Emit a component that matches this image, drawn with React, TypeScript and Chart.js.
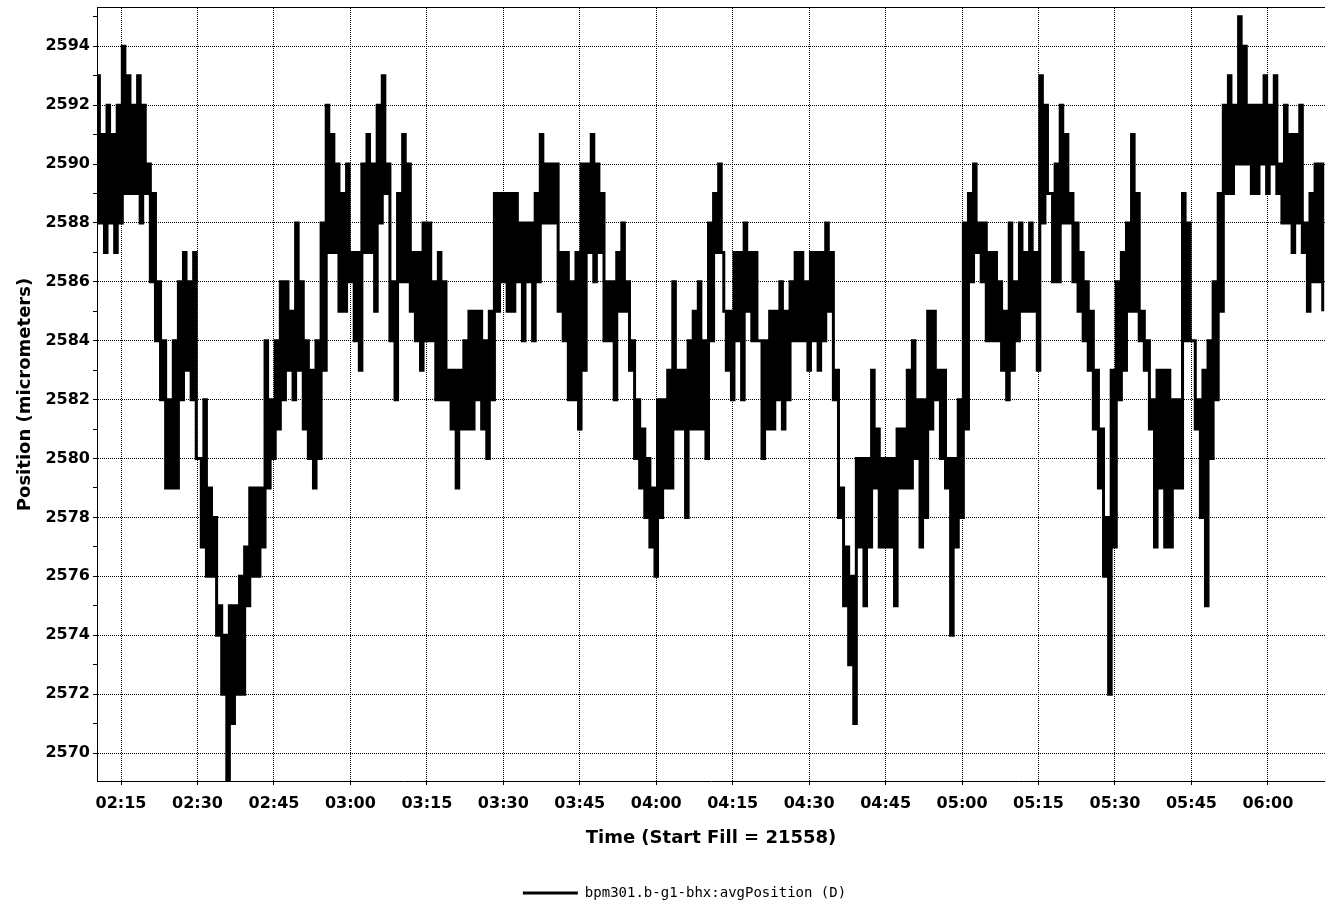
import React, { useEffect, useRef } from "react";
import { Chart, registerables } from "chart.js";

Chart.register(...registerables);

// ---- data (sampled every 30 s, values in micrometers) ----
const START_TIME = "02:10:15";
const SAMPLE_SECONDS = 30;
const X_MIN = "02:10:17";
const X_MAX = "06:11:12";
const Y_MIN = 2569.05;
const Y_MAX = 2595.3;

const xTickLabels = [
  "02:15", "02:30", "02:45", "03:00", "03:15", "03:30", "03:45", "04:00",
  "04:15", "04:30", "04:45", "05:00", "05:15", "05:30", "05:45", "06:00",
];
const yTickValues = [
  2570, 2571, 2572, 2573, 2574, 2575, 2576, 2577, 2578, 2579, 2580, 2581, 2582,
  2583, 2584, 2585, 2586, 2587, 2588, 2589, 2590, 2591, 2592, 2593, 2594, 2595,
];

// 02:10 - 02:51
const posA = [
  2593, 2588, 2591, 2587, 2592, 2588, 2591, 2587, 2592, 2588, 2594, 2589, 2593, 2589, 2592, 2589, 2593, 2588, 2592, 2589,
  2590, 2586, 2589, 2584, 2586, 2582, 2584, 2579, 2582, 2579, 2584, 2579, 2586, 2582, 2587, 2583, 2586, 2582, 2587, 2580,
  2580, 2577, 2582, 2576, 2579, 2576, 2578, 2574, 2575, 2572, 2574, 2569, 2575, 2571, 2575, 2572, 2576, 2572, 2577, 2575,
  2579, 2576, 2579, 2576, 2579, 2577, 2584, 2579, 2582, 2580, 2584, 2581, 2586, 2582, 2586, 2583, 2585, 2582, 2588, 2583,
  2586, 2581,
];
// 02:51 - 03:31
const posB = [
  2584, 2580, 2583, 2579, 2584, 2580, 2588, 2583, 2592, 2587, 2591, 2587, 2590, 2585, 2589, 2585, 2590, 2586, 2587, 2584,
  2587, 2583, 2590, 2587, 2591, 2587, 2590, 2585, 2592, 2588, 2593, 2589, 2590, 2584, 2586, 2582, 2589, 2586, 2591, 2586,
  2590, 2585, 2587, 2584, 2587, 2583, 2588, 2584, 2588, 2584, 2586, 2582, 2587, 2582, 2586, 2582, 2583, 2581, 2583, 2579,
  2583, 2581, 2584, 2581, 2585, 2581, 2585, 2582, 2585, 2581, 2584, 2580, 2585, 2582, 2589, 2585, 2589, 2586, 2589, 2585,
];
// 03:31 - 04:11
const posC = [
  2589, 2585, 2589, 2586, 2588, 2584, 2588, 2586, 2588, 2584, 2589, 2586, 2591, 2588, 2590, 2588, 2590, 2588, 2590, 2585,
  2587, 2584, 2587, 2582, 2586, 2582, 2587, 2581, 2590, 2583, 2590, 2587, 2591, 2586, 2590, 2587, 2589, 2584, 2586, 2584,
  2586, 2582, 2587, 2585, 2588, 2585, 2586, 2583, 2584, 2580, 2582, 2579, 2581, 2578, 2580, 2577, 2579, 2576, 2582, 2578,
  2582, 2579, 2583, 2579, 2586, 2581, 2583, 2581, 2583, 2578, 2584, 2581, 2585, 2581, 2586, 2581, 2584, 2580, 2588, 2584,
];
// 04:11 - 04:51
const posD = [
  2589, 2587, 2590, 2587, 2585, 2583, 2585, 2582, 2587, 2584, 2587, 2582, 2588, 2585, 2587, 2584, 2587, 2584, 2584, 2580,
  2584, 2581, 2585, 2581, 2585, 2582, 2586, 2581, 2585, 2582, 2586, 2584, 2587, 2584, 2587, 2584, 2586, 2583, 2587, 2584,
  2587, 2583, 2587, 2584, 2588, 2585, 2587, 2582, 2583, 2578, 2579, 2575, 2577, 2573, 2576, 2571, 2580, 2577, 2580, 2575,
  2580, 2577, 2583, 2579, 2581, 2577, 2580, 2577, 2580, 2577, 2580, 2575, 2581, 2579, 2581, 2579, 2583, 2579, 2584, 2580,
];
// 04:51 - 05:32
const posE = [
  2582, 2577, 2582, 2578, 2585, 2581, 2585, 2582, 2583, 2580, 2583, 2579, 2580, 2574, 2580, 2577, 2582, 2578, 2588, 2581,
  2589, 2586, 2590, 2587, 2588, 2586, 2588, 2584, 2587, 2584, 2587, 2584, 2586, 2583, 2585, 2582, 2588, 2583, 2586, 2584,
  2588, 2585, 2587, 2585, 2588, 2585, 2587, 2583, 2593, 2588, 2592, 2589, 2589, 2586, 2590, 2586, 2592, 2588, 2591, 2588,
  2589, 2586, 2588, 2585, 2587, 2584, 2586, 2583, 2585, 2581, 2583, 2579, 2581, 2576, 2578, 2572, 2583, 2577, 2586, 2582,
  2587, 2583,
];
// 05:32 - 06:11
const posF = [
  2588, 2585, 2591, 2585, 2589, 2584, 2585, 2583, 2584, 2581, 2582, 2577, 2583, 2579, 2583, 2577, 2583, 2577, 2582, 2579,
  2582, 2579, 2589, 2584, 2588, 2584, 2584, 2581, 2582, 2578, 2583, 2575, 2584, 2580, 2586, 2582, 2589, 2585, 2592, 2589,
  2593, 2589, 2592, 2590, 2595, 2590, 2594, 2590, 2592, 2589, 2592, 2589, 2592, 2590, 2593, 2589, 2592, 2590, 2593, 2589,
  2590, 2588, 2592, 2588, 2591, 2587, 2591, 2588, 2592, 2587, 2588, 2585, 2589, 2586, 2590, 2586, 2590, 2585,
];

const seriesLabel = "bpm301.b-g1-bhx:avgPosition (D)";
const xTitle = "Time (Start Fill = 21558)";
const yTitle = "Position (micrometers)";

function toMinutes(s: string): number {
  const p = s.split(":").map(Number);
  return p[0] * 60 + p[1] + (p[2] || 0) / 60;
}
function fmt(v: number): string {
  const h = Math.floor(v / 60);
  const m = Math.round(v - h * 60);
  return String(h).padStart(2, "0") + ":" + String(m).padStart(2, "0");
}

const tickFont = { family: "DejaVu Sans", size: 16, weight: "bold" as const };
const titleFont = { family: "DejaVu Sans", size: 18, weight: "bold" as const };

export default function App() {
  const ref = useRef<HTMLCanvasElement>(null);

  useEffect(() => {
    const values = [...posA, ...posB, ...posC, ...posD, ...posE, ...posF];
    const t0 = toMinutes(START_TIME);
    const points = values.map((y, i) => ({ x: t0 + (i * SAMPLE_SECONDS) / 60, y }));
    const xTicks = xTickLabels.map(toMinutes);

    const frame = {
      id: "frame",
      afterDraw(chart: any) {
        const { ctx, chartArea } = chart;
        ctx.save();
        ctx.strokeStyle = "#000";
        ctx.lineWidth = 1;
        ctx.setLineDash([]);
        ctx.beginPath();
        ctx.moveTo(chartArea.left, Math.round(chartArea.top) - 0.5);
        ctx.lineTo(chartArea.right, Math.round(chartArea.top) - 0.5);
        ctx.stroke();
        ctx.restore();
      },
    };

    const chart = new Chart(ref.current as HTMLCanvasElement, {
      type: "line",
      data: {
        datasets: [
          {
            label: seriesLabel,
            data: points,
            borderColor: "#000",
            backgroundColor: "#000",
            borderWidth: 3,
            borderJoinStyle: "miter",
            borderCapStyle: "butt",
            pointRadius: 0,
            pointHoverRadius: 0,
            stepped: true,
            fill: false,
            tension: 0,
          },
        ],
      },
      options: {
        animation: false,
        responsive: false,
        events: [],
        layout: { padding: { left: 44, top: 8, right: 0, bottom: -7 } },
        plugins: {
          tooltip: { enabled: false },
          legend: {
            position: "bottom",
            labels: {
              usePointStyle: true,
              pointStyleWidth: 55,
              padding: 3,
              color: "#000",
              font: { family: "DejaVu Sans Mono", size: 14 },
              generateLabels: () => [
                {
                  text: seriesLabel,
                  fillStyle: "#000",
                  strokeStyle: "#000",
                  lineWidth: 3,
                  pointStyle: "line",
                  hidden: false,
                  datasetIndex: 0,
                } as any,
              ],
            },
          },
        },
        scales: {
          x: {
            type: "linear",
            min: toMinutes(X_MIN),
            max: toMinutes(X_MAX),
            afterBuildTicks: (s: any) => {
              s.ticks = xTicks.map((v) => ({ value: v }));
            },
            afterFit: (s: any) => {
              s.height = 102;
            },
            ticks: {
              autoSkip: false,
              maxRotation: 0,
              padding: 9,
              color: "#000",
              font: tickFont,
              callback: (v: any) => fmt(Number(v)),
            },
            grid: { color: "#000", lineWidth: 1, tickLength: 4, tickColor: "#000" },
            border: { display: true, color: "#000", width: 1, dash: [1, 1] },
            title: {
              display: true,
              text: xTitle,
              color: "#000",
              font: titleFont,
              padding: { top: 0, bottom: 34 },
            },
          },
          y: {
            type: "linear",
            min: Y_MIN,
            max: Y_MAX,
            afterBuildTicks: (s: any) => {
              s.ticks = yTickValues.map((v) => ({ value: v }));
            },
            afterFit: (s: any) => {
              s.width = 53;
            },
            ticks: {
              padding: 3,
              color: "#000",
              font: tickFont,
              callback: (v: any) => (Number(v) % 2 === 0 ? String(v) : ([] as any)),
            },
            grid: {
              color: (c: any) => (c.tick && c.tick.value % 2 === 0 ? "#000" : "rgba(0,0,0,0)"),
              lineWidth: 1,
              tickLength: 4,
              tickColor: "#000",
            },
            border: { display: true, color: "#000", width: 1, dash: [1, 1] },
            title: {
              display: true,
              text: yTitle,
              color: "#000",
              font: titleFont,
              padding: { top: -29.8, bottom: 0 },
            },
          },
        },
      } as any,
      plugins: [frame],
    });
    return () => chart.destroy();
  }, []);

  return (
    <div style={{ position: "fixed", left: 0, top: 0, width: 1325, height: 903, background: "#fff" }}>
      <canvas ref={ref} width={1325} height={903} style={{ display: "block" }} />
    </div>
  );
}
